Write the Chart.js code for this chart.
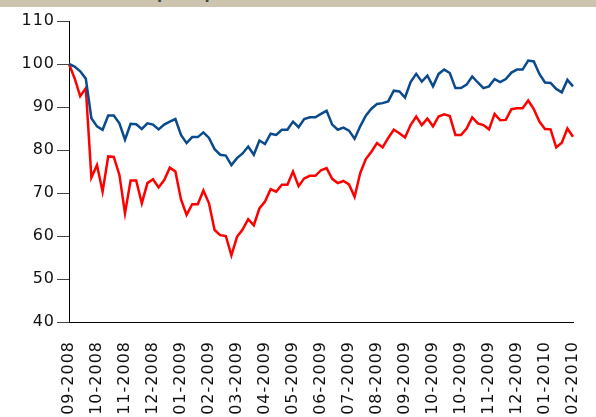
<!DOCTYPE html>
<html>
<head>
    <title>Relative performance</title>
    <style>
        body { margin: 0; background: #fff; }
        .topBar { position: absolute; left: 0; top: 0; width: 596px; height: 7px; overflow: hidden; background: #cdc4b0; }
        .topBar span { position: absolute; left: 30px; top: -15px; font: bold 15px "DejaVu Sans"; color: #444; white-space: nowrap; }
        .chartBox { position: absolute; left: 0; top: 0; width: 596px; height: 417px; }
    </style>
</head>
<body>
    <div class="chartBox"><canvas id="myChart"></canvas></div>
    <div class="topBar"><span>Relative share price performance</span></div>
</body>
<script src="https://cdn.jsdelivr.net/npm/chart.js"></script>
<script>
    // tick labels, one every 5 weekly points
    const tickLabels = ["09-2008", "10-2008", "11-2008", "12-2008", "01-2009", "02-2009", "03-2009",
        "04-2009", "05-2009", "06-2009", "07-2009", "08-2009", "09-2009", "10-2009", "10-2009",
        "11-2009", "12-2009", "01-2010", "02-2010"];
    const yTicks = [40, 50, 60, 70, 80, 90, 100, 110];

    const blueValues = [100, 99.4, 98.3, 96.6, 87.4, 85.5, 84.7, 88.0, 88.0, 86.2, 82.4, 86.1, 86.0, 84.9, 86.2,
        85.9, 84.8, 85.9, 86.6, 87.2, 83.5, 81.6, 83.0, 83.0, 84.1, 82.8, 80.2, 78.9, 78.7, 76.5,
        78.1, 79.2, 80.8, 78.9, 82.2, 81.4, 83.8, 83.5, 84.7, 84.7, 86.6, 85.3, 87.2, 87.6, 87.6,
        88.4, 89.1, 85.9, 84.7, 85.2, 84.5, 82.6, 85.5, 88.0, 89.6, 90.7, 90.9, 91.3, 93.8, 93.6,
        92.2, 95.8, 97.7, 95.9, 97.3, 94.8, 97.7, 98.7, 97.9, 94.4, 94.4, 95.2, 97.1, 95.7, 94.4,
        94.8, 96.5, 95.8, 96.5, 98.0, 98.7, 98.7, 100.8, 100.6, 97.7, 95.7, 95.6, 94.2, 93.4, 96.3, 94.8];
    const redValues = [100, 96.7, 92.5, 94.4, 73.6, 76.5, 70.3, 78.5, 78.4, 74.2, 65.3, 72.9, 72.9, 67.6, 72.3,
        73.2, 71.3, 73.0, 75.9, 75.0, 68.5, 64.9, 67.4, 67.4, 70.6, 67.6, 61.4, 60.2, 60.0, 55.5,
        59.8, 61.5, 63.9, 62.5, 66.4, 68.0, 70.9, 70.3, 71.9, 71.9, 75.0, 71.6, 73.4, 74.0, 74.0,
        75.3, 75.8, 73.3, 72.3, 72.8, 72.0, 69.1, 74.6, 77.9, 79.6, 81.6, 80.6, 82.8, 84.7, 83.9,
        82.9, 85.8, 87.8, 85.8, 87.3, 85.5, 87.8, 88.3, 87.9, 83.5, 83.5, 85.0, 87.6, 86.2, 85.8,
        84.8, 88.4, 86.9, 87.0, 89.5, 89.7, 89.7, 91.5, 89.5, 86.6, 84.9, 84.8, 80.6, 81.7, 85.0, 83.1];

    // every point gets a category, only every 5th shows a label
    const categories = blueValues.map((v, i) => i % 5 === 0 ? tickLabels[i / 5] : "");

    const spacing = {
        id: 'spacing',
        beforeDraw(chart) { chart.ctx.letterSpacing = '1px'; }
    };

    const config = {
        type: 'line',
        data: {
            labels: categories,
            datasets: [{
                label: 'Sector',
                data: blueValues,
                borderColor: '#0b4a8c',
                borderWidth: 2.5,
                pointRadius: 0,
                tension: 0
            }, {
                label: 'Company',
                data: redValues,
                borderColor: '#ff0000',
                borderWidth: 2.5,
                pointRadius: 0,
                tension: 0
            }]
        },
        options: {
            responsive: true,
            maintainAspectRatio: false,
            animation: false,
            layout: { padding: { top: 21, right: 23, left: 0, bottom: 0 } },
            plugins: { legend: { display: false }, tooltip: { enabled: false } },
            scales: {
                x: {
                    grid: { display: false },
                    border: { display: true, color: '#000', width: 1 },
                    ticks: {
                        autoSkip: false,
                        maxRotation: 90,
                        minRotation: 90,
                        padding: 11,
                        color: '#111',
                        font: { family: 'DejaVu Sans', size: 16 }
                    },
                    afterFit(scale) {
                        scale.height = 95;
                        scale.paddingLeft = 0;
                        scale.paddingRight = 0;
                    }
                },
                y: {
                    min: yTicks[0],
                    max: yTicks[yTicks.length - 1],
                    afterBuildTicks(scale) { scale.ticks = yTicks.map(v => ({ value: v })); },
                    grid: { drawOnChartArea: false, drawTicks: true, tickLength: 12, color: '#444' },
                    border: { display: true, color: '#000', width: 1 },
                    ticks: {
                        padding: 2,
                        color: '#111',
                        font: { family: 'DejaVu Sans', size: 16 }
                    },
                    afterFit(scale) { scale.width = 69; }
                }
            }
        },
        plugins: [spacing]
    };
    let myChart = new Chart(document.getElementById('myChart'), config);
</script>
</html>
